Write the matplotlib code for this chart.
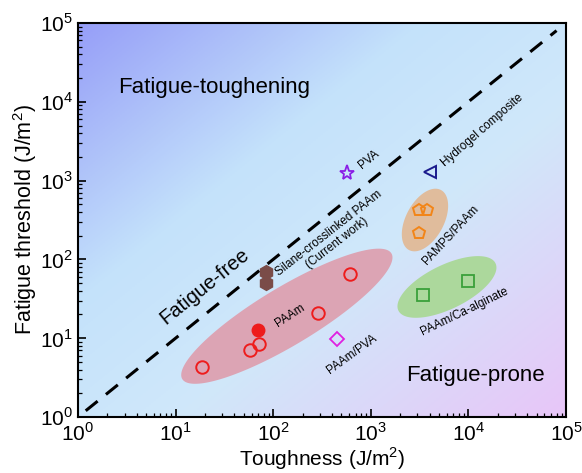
import numpy as np
import matplotlib
matplotlib.use("Agg")
import matplotlib.pyplot as plt
from matplotlib.colors import LinearSegmentedColormap

plt.rcParams['font.family'] = ['Liberation Sans', 'DejaVu Sans']
plt.rcParams['mathtext.fontset'] = 'custom'
plt.rcParams['mathtext.rm'] = 'Liberation Sans'

# data (toughness, fatigue threshold) in J/m^2
paam_open_x = [18.6, 58, 72, 288, 612]
paam_open_y = [4.3, 7.1, 8.4, 20.9, 65]
paam_fill_x = [70]
paam_fill_y = [12.7]
silane_x = [84, 84]
silane_y = [70, 50]
pva_x = [570]
pva_y = [1250]
composite_x = [4050]
composite_y = [1290]
pamps_x = [3120, 3770, 3120]
pamps_y = [424, 424, 216]
alginate_x = [3430, 9900]
alginate_y = [35, 53]
paam_pva_x = [450]
paam_pva_y = [9.8]

# shaded groups: center x, center y, half-length (px), half-width (px), angle (deg)
group_names = ['PAAm', 'PAMPS/PAAm', 'PAAm/Ca-alginate']
group_cx = [138, 3590, 6030]
group_cy = [19, 316, 44.7]
group_a = [122, 34, 54]
group_b = [29, 19, 22]
group_ang = [31, 62, 26]
group_col = ['#dca4b4', '#e0bc9c', '#acd89c']

fig = plt.figure(figsize=(5.82, 4.73), dpi=100)
ax = fig.add_axes([0.134, 0.1184, 0.8385, 0.833])
ax.set_xscale('log')
ax.set_yscale('log')
ax.set_xlim(1, 1e5)
ax.set_ylim(1, 1e5)

# background gradient
cmap = LinearSegmentedColormap.from_list('bg', [
    (0.0, (150/255, 158/255, 248/255)),
    (0.35, (196/255, 226/255, 251/255)),
    (0.6, (208/255, 232/255, 250/255)),
    (1.0, (232/255, 198/255, 248/255))])
gx, gy = np.meshgrid(np.linspace(0, 1, 200), np.linspace(1, 0, 200))
ax.imshow((gx + (1 - gy)) / 2, cmap=cmap, extent=[0, 1, 0, 1],
          transform=ax.transAxes, aspect='auto', zorder=0, vmin=0, vmax=1)

# ellipses drawn in log space with pixel sized axes
px_dec_x = 0.8385 * 582 / 5
px_dec_y = 0.833 * 473 / 5
t = np.linspace(0, 2 * np.pi, 200)
for cx, cy, a, b, ang, c in zip(group_cx, group_cy, group_a, group_b, group_ang, group_col):
    th = np.radians(ang)
    dx = a * np.cos(t) * np.cos(th) - b * np.sin(t) * np.sin(th)
    dy = a * np.cos(t) * np.sin(th) + b * np.sin(t) * np.cos(th)
    ax.fill(10 ** (np.log10(cx) + dx / px_dec_x), 10 ** (np.log10(cy) + dy / px_dec_y),
            color=c, lw=0, zorder=1)

# fatigue-free line
ax.plot([1.2, 8e4], [1.2, 8e4], ls=(0, (5, 3.5)), color='k', lw=2.2, zorder=2)

ms = 9
ax.plot(paam_open_x, paam_open_y, 'o', mfc='none', mec='#ee1c1c', mew=1.4, ms=ms, zorder=3)
ax.plot(paam_fill_x, paam_fill_y, 'o', color='#ee1c1c', ms=ms, zorder=3)
ax.plot(silane_x, silane_y, 'h', color='#7a4c48', ms=10, zorder=3)
ax.plot(pva_x, pva_y, '*', mfc='none', mec='#8a1ee6', mew=1.3, ms=11, zorder=3)
ax.plot(composite_x, composite_y, '<', mfc='none', mec='#1a1a8c', mew=1.4, ms=ms, zorder=3)
ax.plot(pamps_x, pamps_y, 'p', mfc='none', mec='#f28518', mew=1.4, ms=ms, zorder=3)
ax.plot(alginate_x, alginate_y, 's', mfc='none', mec='#3aa03a', mew=1.3, ms=8, zorder=3)
ax.plot(paam_pva_x, paam_pva_y, 'D', mfc='none', mec='#e020e0', mew=1.3, ms=7, zorder=3)

# annotations
ax.text(2.57, 15000, 'Fatigue-toughening', fontsize=16, ha='left', va='center')
ax.text(2300, 3.4, 'Fatigue-prone', fontsize=16, ha='left', va='center')
ax.text(20, 45, 'Fatigue-free', fontsize=14.5, rotation=39, ha='center', va='center')
lab = dict(fontsize=8.5, ha='center', va='center', rotation_mode='anchor', zorder=4)
ax.text(409, 187, 'Silane-crosslinked PAAm\n(Current work)', rotation=38, linespacing=1.0, **lab)
ax.text(960, 1850, 'PVA', rotation=39, **lab)
ax.text(13800, 4300, 'Hydrogel composite', rotation=41, **lab)
ax.text(6630, 204, 'PAMPS/PAAm', rotation=47, **lab)
ax.text(148, 19.5, 'PAAm', rotation=33, **lab)
ax.text(641, 6.3, 'PAAm/PVA', rotation=36, **lab)
ax.text(9200, 21.5, 'PAAm/Ca-alginate', rotation=26, **lab)

ax.set_xticks([1, 10, 100, 1e3, 1e4, 1e5])
ax.set_yticks([1, 10, 100, 1e3, 1e4, 1e5])
ax.set_xticklabels([r'$10^{%d}$' % i for i in range(6)])
ax.set_yticklabels([r'$10^{%d}$' % i for i in range(6)])
ax.tick_params(which='both', direction='in', top=False, right=False, labelsize=15)
ax.tick_params(axis='x', pad=4)
ax.tick_params(which='major', length=6, width=1.2)
ax.tick_params(which='minor', length=3, width=0.9)
for s in ax.spines.values():
    s.set_linewidth(1.5)
ax.set_xlabel(r'Toughness (J/m$^2$)', fontsize=15, labelpad=0)
ax.set_ylabel(r'Fatigue threshold (J/m$^2$)', fontsize=15.5, labelpad=1)

fig.savefig('out.png', dpi=100)
